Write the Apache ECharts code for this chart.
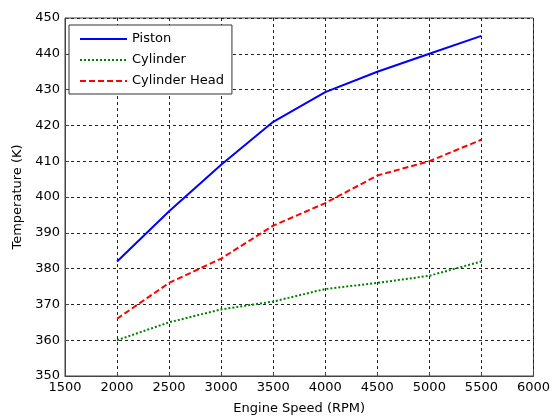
<!DOCTYPE html>
<html>
<head>
<meta charset="utf-8">
<script src="https://cdn.jsdelivr.net/npm/echarts@6/dist/echarts.min.js"></script>
<style>
  html, body { margin: 0; padding: 0; background: #fff; }
  #chart { width: 553px; height: 420px; }
</style>
</head>
<body>
<div id="chart"></div>
<script>
// engine speed (RPM)
const speeds = [2000, 2500, 3000, 3500, 4000, 4500, 5000, 5500]
// temperatures (K)
const piston = [382, 396, 409, 421, 429.3, 435, 440, 445]
const cylinder = [360, 365, 368.6, 370.8, 374.3, 376, 378, 382]
const cylinderHead = [366, 376, 382.8, 392, 398.3, 406, 410, 416]

const pairs = (ys) => speeds.map((x, i) => [x, ys[i]])

const font = 'DejaVu Sans, sans-serif'

const dashedGrid = {
  show: true,
  lineStyle: { color: '#222', width: 1, type: [3, 3] },
}

const chart = echarts.init(document.getElementById('chart'))

chart.setOption({
  animation: false,
  textStyle: { fontFamily: font },
  grid: {
    left: 65,
    top: 18,
    right: 17,
    bottom: 40,
    show: true,
    borderColor: '#444',
    borderWidth: 1,
  },
  legend: {
    orient: 'vertical',
    left: 69,
    top: 25,
    padding: [7, 8, 6, 10],
    itemWidth: 47,
    itemHeight: 14,
    itemGap: 7,
    backgroundColor: '#fff',
    borderColor: '#333',
    borderWidth: 1,
    borderRadius: 0,
    itemStyle: { opacity: 0 },
    textStyle: { color: '#000', fontSize: 13, lineHeight: 14, fontFamily: font },
    data: ['Piston', 'Cylinder', 'Cylinder Head'],
  },
  xAxis: {
    type: 'value',
    min: 1500,
    max: 6000,
    interval: 500,
    name: 'Engine Speed (RPM)',
    nameLocation: 'middle',
    nameGap: 26,
    nameTextStyle: { color: '#000', fontSize: 13, fontFamily: font },
    axisLine: { show: true, onZero: false, lineStyle: { color: '#444' } },
    axisTick: { show: true, inside: true, length: 4, lineStyle: { color: '#444' } },
    axisLabel: { color: '#000', fontSize: 13, fontFamily: font, margin: 5, formatter: (v) => String(v) },
    splitLine: dashedGrid,
  },
  yAxis: {
    type: 'value',
    min: 350,
    max: 450,
    interval: 10,
    name: 'Temperature (K)',
    nameLocation: 'middle',
    nameGap: 40,
    nameTextStyle: { color: '#000', fontSize: 13, fontFamily: font },
    axisLine: { show: true, lineStyle: { color: '#444' } },
    axisTick: { show: true, inside: true, length: 4, lineStyle: { color: '#444' } },
    axisLabel: { color: '#000', fontSize: 13, fontFamily: font, margin: 5, formatter: (v) => String(v) },
    splitLine: dashedGrid,
  },
  series: [
    {
      name: 'Piston',
      type: 'line',
      data: pairs(piston),
      symbol: 'none',
      itemStyle: { color: '#0000ff' },
      lineStyle: { color: '#0000ff', width: 2 },
    },
    {
      name: 'Cylinder',
      type: 'line',
      data: pairs(cylinder),
      symbol: 'none',
      itemStyle: { color: '#008000' },
      lineStyle: { color: '#008000', width: 2, type: [2, 2] },
    },
    {
      name: 'Cylinder Head',
      type: 'line',
      data: pairs(cylinderHead),
      symbol: 'none',
      itemStyle: { color: '#ff0000' },
      lineStyle: { color: '#ff0000', width: 2, type: [6, 3] },
    },
  ],
})
</script>
</body>
</html>
